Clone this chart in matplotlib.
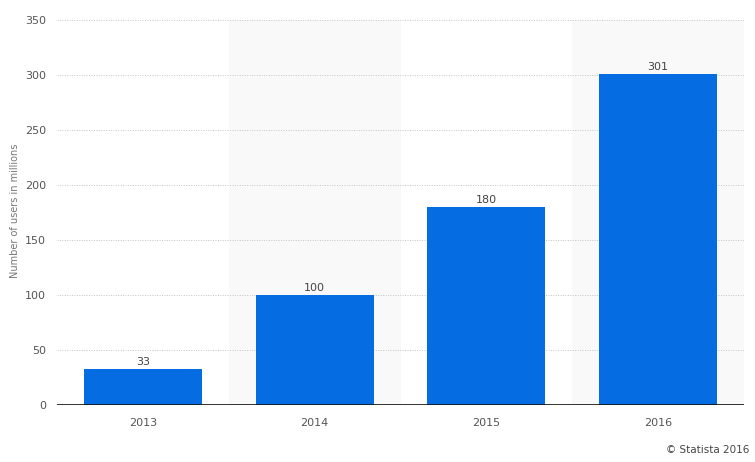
import matplotlib
matplotlib.use("Agg")
from matplotlib import pyplot as plt

years = ["2013", "2014", "2015", "2016"]
users = [33, 100, 180, 301]
yticks = [0, 50, 100, 150, 200, 250, 300, 350]

fig = plt.figure(figsize=(7.55, 4.62), dpi=100)
ax = fig.add_axes([57 / 755, 57 / 462, 687 / 755, 385 / 462])

x = list(range(len(years)))
# alternating background bands
for i in x:
    if i % 2 == 1:
        ax.axvspan(i - 0.5, i + 0.5, color="#f9f9f9", zorder=0, lw=0)

for t in yticks[1:]:
    ax.axhline(t, color="#c4c4c4", lw=0.7, ls=(0, (1, 1.5)), zorder=1)

bars = ax.bar(x, users, width=0.687, color="#056ce2", zorder=2)
for b, v in zip(bars, users):
    ax.text(b.get_x() + b.get_width() / 2, v + 1.5, str(v), ha="center", va="bottom",
            fontsize=8, color="#444444", zorder=3)

ax.axhline(0, color="#111111", lw=1.2, zorder=3)

ax.set_xlim(-0.5, 3.5)
ax.set_ylim(0, 350)
ax.set_xticks(x)
ax.set_xticklabels(years)
ax.set_yticks(yticks)
ax.tick_params(axis="both", length=0, labelsize=8, labelcolor="#555555")
ax.tick_params(axis="x", pad=9)
ax.tick_params(axis="y", pad=8)
for s in ax.spines.values():
    s.set_visible(False)

fig.text(15 / 755, 1 - 211 / 462, "Number of users in millions", rotation=90, ha="center", va="center",
         fontsize=7, color="#777777")
fig.text(0.993, 0.015, "© Statista 2016", ha="right", va="bottom", fontsize=7.5, color="#444444")

fig.savefig("out.png", dpi=100)
